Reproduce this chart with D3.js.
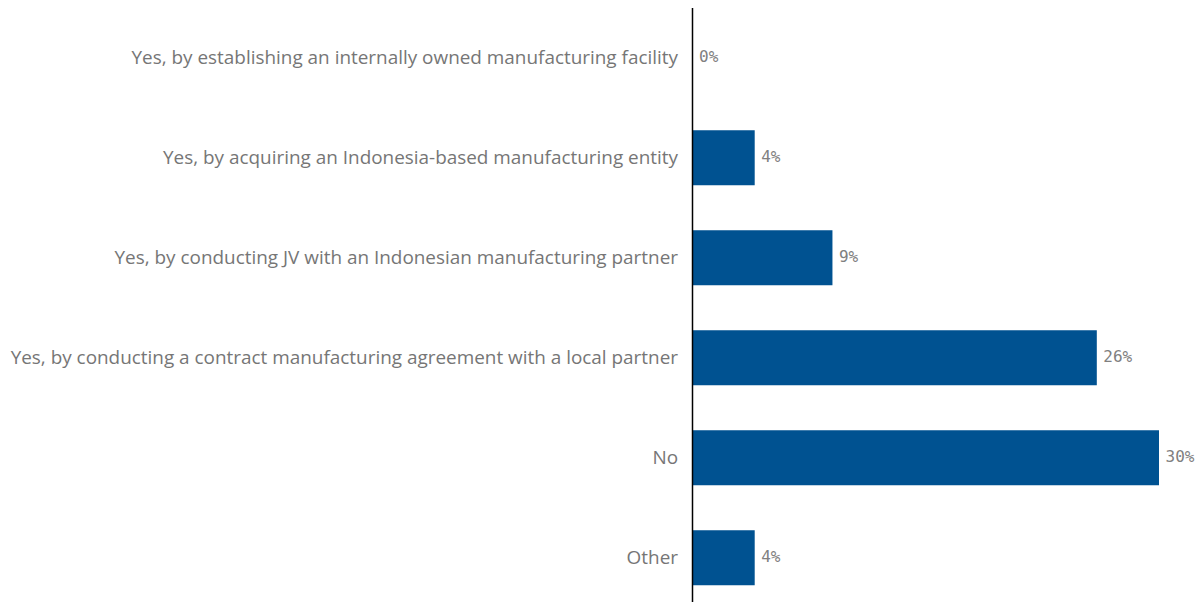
<!DOCTYPE html>
<html>
<head>
<meta charset="utf-8">
<script src="https://cdn.jsdelivr.net/npm/d3@7"></script>
<style>
  html, body { margin: 0; padding: 0; background: #ffffff; }
  svg { display: block; }
</style>
</head>
<body>
<svg id="chart" width="1203" height="602"></svg>
<script>
// Survey answers and their shares (%)
const categories = [
  "Yes, by establishing an internally owned manufacturing facility",
  "Yes, by acquiring an Indonesia-based manufacturing entity",
  "Yes, by conducting JV with an Indonesian manufacturing partner",
  "Yes, by conducting a contract manufacturing agreement with a local partner",
  "No",
  "Other"
];
const values = [0, 4, 9, 26, 30, 4];
const valueLabels = ["0%", "4%", "9%", "26%", "30%", "4%"];

const svg = d3.select("#chart");
const W = 1203, H = 602;
const axisX = 692.5;

const x = d3.scaleLinear().domain([0, 30]).range([axisX, 1159]);
const y = d3.scaleBand()
  .domain(categories)
  .range([7.75, 607.75])
  .paddingInner(0.45)
  .paddingOuter(0.225);

// Bars
svg.append("g").selectAll("rect")
  .data(values)
  .join("rect")
  .attr("x", x(0))
  .attr("y", (d, i) => y(categories[i]))
  .attr("width", d => x(d) - x(0))
  .attr("height", y.bandwidth())
  .attr("fill", "#005291");

// Category labels to the left of the axis
const labels = svg.append("g").selectAll("text")
  .data(categories)
  .join("text")
  .attr("x", 678)
  .attr("y", d => y(d) + y.bandwidth() / 2 - 1)
  .attr("text-anchor", "end")
  .attr("dominant-baseline", "central")
  .attr("fill", "#767676")
  .style("font-family", "'Open Sans', sans-serif")
  .style("font-size", "19px")
  .text(d => d);

// Fit the longest label to its width
const longest = labels.nodes()[3];
const w = longest.getComputedTextLength();
const target = 668;
const fs = 19 * target / w;
labels.style("font-size", fs + "px");

// Value labels at the end of each bar
svg.append("g").selectAll("text")
  .data(values)
  .join("text")
  .attr("x", d => x(d) + 6.5)
  .attr("y", (d, i) => y(categories[i]) + y.bandwidth() / 2 - 1)
  .attr("dominant-baseline", "central")
  .attr("fill", "#808080")
  .style("font-family", "'DejaVu Sans Mono', monospace")
  .style("font-size", "16px")
  .text((d, i) => valueLabels[i]);

// Vertical category axis line
svg.append("line")
  .attr("x1", axisX).attr("x2", axisX)
  .attr("y1", 8).attr("y2", H)
  .attr("stroke", "#000000")
  .attr("stroke-width", 1.5);
</script>
</body>
</html>
